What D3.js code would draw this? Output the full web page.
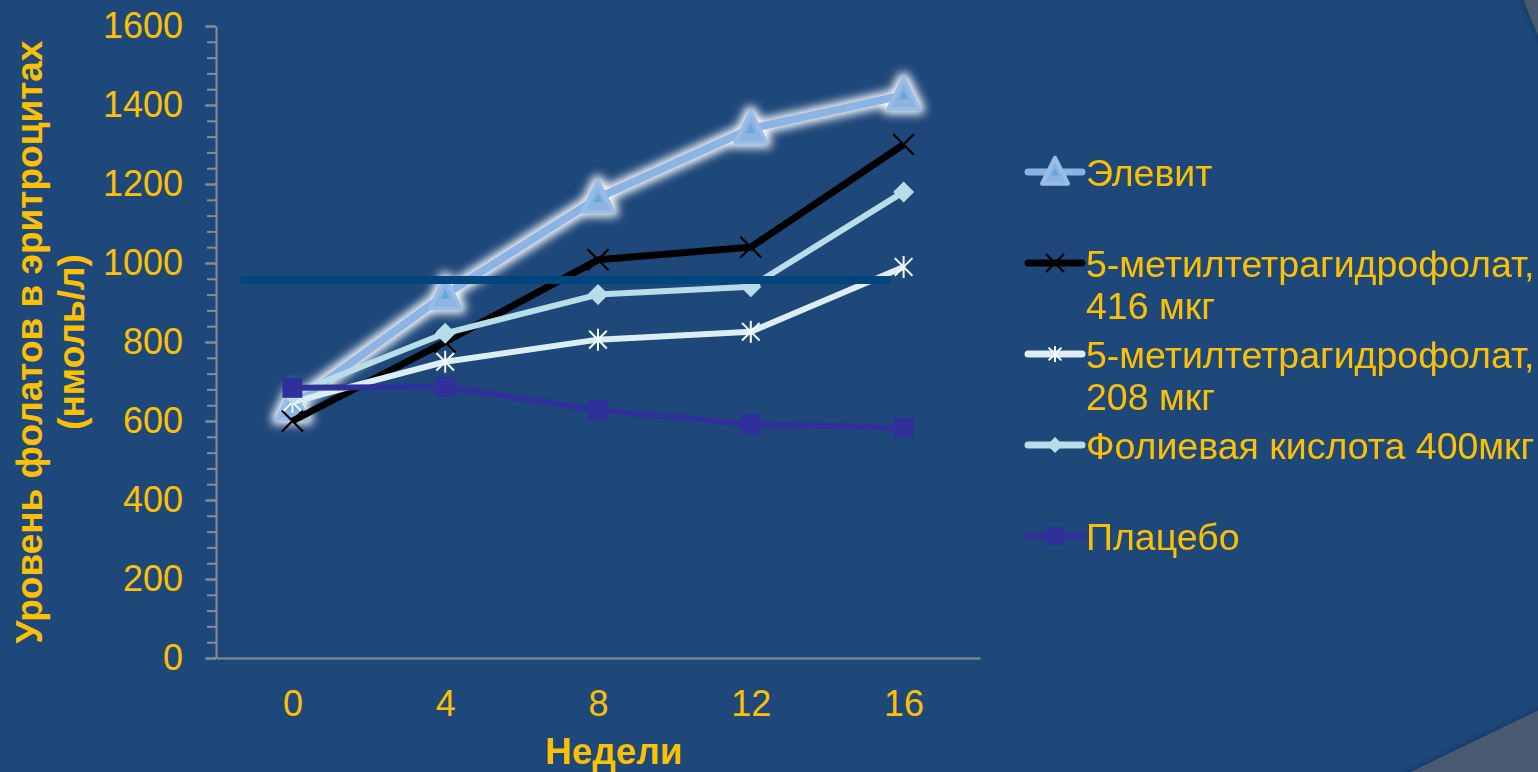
<!DOCTYPE html>
<html><head><meta charset="utf-8">
<script src="https://cdn.jsdelivr.net/npm/d3@7"></script>
<style>html,body{margin:0;padding:0;background:#1f487a;overflow:hidden}</style>
</head><body><svg id="c" width="1538" height="772"></svg>
<script>
// ---- data ----
const weeks = [0, 4, 8, 12, 16];
const elevit  = [640, 920, 1165, 1340, 1425];
const mthf416 = [600, 800, 1008, 1040, 1300];
const mthf208 = [648, 750, 806, 826, 990];
const folic   = [668, 822, 920, 940, 1180];
const placebo = [684, 686, 628, 592, 582];
const seriesNames = [
  ["Элевит"],
  ["5-метилтетрагидрофолат,", "416 мкг"],
  ["5-метилтетрагидрофолат,", "208 мкг"],
  ["Фолиевая кислота 400мкг"],
  ["Плацебо"]
];
const yMajorTicks = [0, 200, 400, 600, 800, 1000, 1200, 1400, 1600];
const yMinorStep = 40;
const thresholdValue = 957;
const thresholdWeeks = [-1.35, 15.65];
const xTitle = "Недели";
const yTitle = ["Уровень фолатов в эритроцитах", "(нмоль/л)"];

// ---- styles ----
const YELLOW = "#ffc000";
const AXIS = "#878c95";
const FONT = "Liberation Sans, Arial, sans-serif";
const styles = [
  {color: "#8db3e2", width: 8, marker: "triangle", glow: true},
  {color: "#000000", width: 7, marker: "x"},
  {color: "#dbeef4", width: 6, marker: "star"},
  {color: "#b7dee8", width: 6, marker: "diamond"},
  {color: "#30309a", width: 6, marker: "square"}
];
const allSeries = [elevit, mthf416, mthf208, folic, placebo];

const svg = d3.select("#c");
const defs = svg.append("defs");
const glow = defs.append("filter").attr("id", "glow")
  .attr("x", "-20%").attr("y", "-20%").attr("width", "140%").attr("height", "140%");
glow.append("feMorphology").attr("operator", "dilate").attr("radius", 3).attr("in", "SourceAlpha").attr("result", "d");
glow.append("feGaussianBlur").attr("in", "d").attr("stdDeviation", 5).attr("result", "b");
glow.append("feFlood").attr("flood-color", "#ffffff").attr("flood-opacity", 1);
glow.append("feComposite").attr("in2", "b").attr("operator", "in").attr("result", "g");
const gm = glow.append("feMerge");
gm.append("feMergeNode").attr("in", "g");
gm.append("feMergeNode").attr("in", "SourceGraphic");

const shadow = defs.append("filter").attr("id", "shadow")
  .attr("x", "-30%").attr("y", "-30%").attr("width", "160%").attr("height", "160%");
shadow.append("feGaussianBlur").attr("in", "SourceAlpha").attr("stdDeviation", 3).attr("result", "s");
shadow.append("feFlood").attr("flood-color", "#0c2240").attr("flood-opacity", 0.7);
shadow.append("feComposite").attr("in2", "s").attr("operator", "in").attr("result", "sc");
const sm = shadow.append("feMerge");
sm.append("feMergeNode").attr("in", "sc");
sm.append("feMergeNode").attr("in", "SourceGraphic");

// background
svg.append("rect").attr("width", 1538).attr("height", 772).attr("fill", "#1f487a");
// corner decorations
svg.append("path").attr("d", "M1522,-5 Q1530,20 1545,50 L1545,-5 Z").attr("fill", "#475a71").attr("filter", "url(#shadow)");
svg.append("path").attr("d", "M1394,780 L1545,707 L1545,780 Z").attr("fill", "#475a71").attr("filter", "url(#shadow)");

// scales
const x = d3.scaleLinear().domain([-2, 18]).range([216, 980]);
const y = d3.scaleLinear().domain([0, 1600]).range([658, 26]);

// y axis minor
svg.append("g").attr("transform", `translate(${x(-2)},0)`)
  .call(d3.axisLeft(y).tickValues(d3.range(0, 1601, yMinorStep)).tickSize(9).tickFormat(""))
  .call(g => g.selectAll("line,path").attr("stroke", AXIS).attr("stroke-width", 2))
  .call(g => g.select(".domain").remove());
// y axis major
svg.append("g").attr("transform", `translate(${x(-2)},0)`)
  .call(d3.axisLeft(y).tickValues(yMajorTicks).tickSize(11).tickPadding(22).tickSizeOuter(0).tickFormat(d3.format("d")))
  .call(g => g.selectAll("line,path").attr("stroke", AXIS).attr("stroke-width", 2))
  .call(g => g.selectAll("text").attr("fill", YELLOW).attr("font-family", FONT).attr("font-size", 36));
// x axis
svg.append("g").attr("transform", `translate(0,${y(0)})`)
  .call(d3.axisBottom(x).tickValues(weeks).tickSize(0).tickPadding(32).tickSizeOuter(0).tickFormat(d3.format("d")))
  .call(g => g.select(".domain").attr("stroke", AXIS).attr("stroke-width", 2))
  .call(g => g.selectAll("text").attr("fill", YELLOW).attr("font-family", FONT).attr("font-size", 36));

// markers
function drawMarker(g, type, s, color) {
  if (type === "triangle") {
    const h = s;
    g.append("path").attr("d", `M0,${-h*0.55} L${s*0.5},${h*0.45} L${-s*0.5},${h*0.45} Z`)
      .attr("fill", color).attr("stroke", "#98bde6").attr("stroke-width", 4).attr("stroke-linejoin", "round");
    const k = 0.3;
    g.append("path").attr("d", `M0,${-h*0.55*k} L${s*0.5*k},${h*0.45*k} L${-s*0.5*k},${h*0.45*k} Z`)
      .attr("fill", "#6aa6dc");
  } else if (type === "x") {
    const r = s / 2;
    g.append("path").attr("d", `M${-r},${-r} L${r},${r} M${-r},${r} L${r},${-r}`)
      .attr("stroke", color).attr("stroke-width", 2.2);
  } else if (type === "star") {
    const r = s / 2;
    g.append("path").attr("d", `M${-r*0.8},${-r*0.8} L${r*0.8},${r*0.8} M${-r*0.8},${r*0.8} L${r*0.8},${-r*0.8} M0,${-r} L0,${r}`)
      .attr("stroke", "#f4fbfd").attr("stroke-width", 2);
  } else if (type === "diamond") {
    const r = s / 2;
    g.append("path").attr("d", `M0,${-r} L${r},0 L0,${r} L${-r},0 Z`).attr("fill", color);
  } else if (type === "square") {
    const r = s / 2;
    g.append("rect").attr("x", -r).attr("y", -r).attr("width", s).attr("height", s).attr("fill", color);
  }
}
const markerSize = {triangle: 31, x: 21, star: 22, diamond: 21, square: 20};
const legendSize = {triangle: 26, x: 18, star: 16, diamond: 16, square: 18};

const line = d3.line().x((d, i) => x(weeks[i])).y(d => y(d));
allSeries.forEach((vals, si) => {
  const st = styles[si];
  const g = svg.append("g");
  if (st.glow) g.attr("filter", "url(#glow)");
  g.append("path").datum(vals).attr("d", line).attr("fill", "none")
    .attr("stroke", st.color).attr("stroke-width", st.width).attr("stroke-linejoin", "round");
  vals.forEach((v, i) => {
    const mg = g.append("g").attr("transform", `translate(${x(weeks[i])},${y(v)})`);
    drawMarker(mg, st.marker, markerSize[st.marker], st.color);
  });
});

// threshold line
svg.append("line")
  .attr("x1", x(thresholdWeeks[0])).attr("x2", x(thresholdWeeks[1]))
  .attr("y1", y(thresholdValue)).attr("y2", y(thresholdValue))
  .attr("stroke", "#00457e").attr("stroke-width", 8);

// legend
const legY0 = 172, legStep = 91, legX0 = 1028, legX1 = 1082;
seriesNames.forEach((lines, i) => {
  const st = styles[i];
  const yy = legY0 + i * legStep;
  const g = svg.append("g");
  g.append("line").attr("x1", legX0).attr("x2", legX1).attr("y1", yy).attr("y2", yy)
    .attr("stroke", st.color).attr("stroke-width", 7).attr("stroke-linecap", "round");
  const mg = g.append("g").attr("transform", `translate(${(legX0 + legX1) / 2},${yy})`);
  drawMarker(mg, st.marker, legendSize[st.marker], st.color);
  lines.forEach((t, j) => {
    g.append("text").attr("x", legX1 + 4).attr("y", yy + j * 42).attr("dy", "0.36em")
      .attr("fill", YELLOW).attr("font-family", FONT)
      .attr("font-size", 37.5).text(t);
  });
});

// titles
const xMid = (x.range()[0] + x.range()[1]) / 2;
svg.append("text").attr("x", xMid + 16).attr("y", 764).attr("text-anchor", "middle")
  .attr("fill", YELLOW).attr("font-family", FONT)
  .attr("font-weight", "bold").attr("font-size", 37).text(xTitle);
yTitle.forEach((t, j) => {
  svg.append("text").attr("transform", `translate(${42 + j * 42},342) rotate(-90)`)
    .attr("text-anchor", "middle").attr("fill", YELLOW)
    .attr("font-family", FONT)
    .attr("font-weight", "bold").attr("font-size", 37).text(t);
});
</script></body></html>
